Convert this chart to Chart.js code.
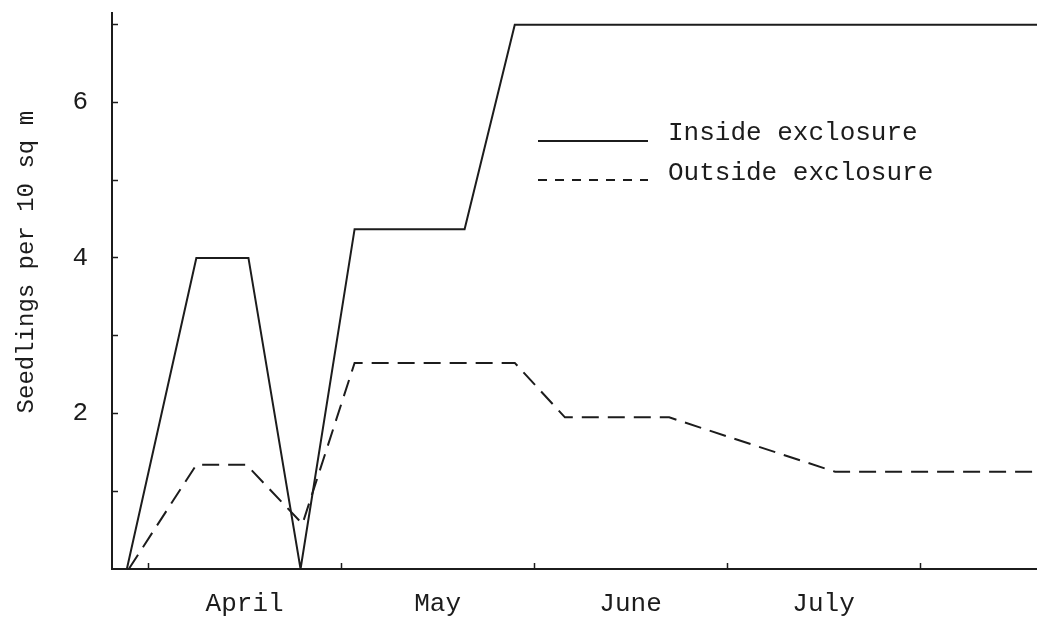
<!DOCTYPE html>
<html><head><meta charset="utf-8">
<script src="https://cdn.jsdelivr.net/npm/chart.js@4"></script>
<style>html,body{margin:0;padding:0;background:#fff}#wrap{width:1037px;height:617px}</style>
</head><body><div id="wrap"><canvas id="c" width="1037" height="617"></canvas></div>
<script>
// ---- data (x in months from 1 April) ----
const seriesNames = ['Inside exclosure', 'Outside exclosure'];
const monthLabels = ['April', 'May', 'June', 'July'];
const yTickLabels = ['2', '4', '6'];
const yAxisTitle = 'Seedlings per 10 sq m';
const insideX  = [-0.11, 0.25, 0.52, 0.79, 1.07, 1.64, 1.90, 4.61];
const insideY  = [0, 4, 4, 0, 4.37, 4.37, 7, 7];
const outsideX = [-0.10, 0.25, 0.51, 0.80, 1.07, 1.90, 2.16, 2.70, 3.56, 4.61];
const outsideY = [0, 1.34, 1.34, 0.58, 2.65, 2.65, 1.95, 1.95, 1.25, 1.25];

const ink = '#1c1c1c';
const FONT = "'Liberation Mono', 'Courier New', monospace";
const toPts = (xs, ys) => xs.map((x, i) => ({x, y: ys[i]}));

const legendPlugin = {
  id: 'inlineLegend',
  afterDatasetsDraw(chart) {
    const ctx = chart.ctx;
    ctx.save();
    chart.data.datasets.forEach((ds, i) => {
      const ly = 141 + i * 39;
      ctx.strokeStyle = ink;
      ctx.lineWidth = 2;
      ctx.setLineDash(i === 0 ? [] : [9, 8]);
      ctx.beginPath();
      ctx.moveTo(538, ly);
      ctx.lineTo(648, ly);
      ctx.stroke();
      ctx.setLineDash([]);
      ctx.fillStyle = ink;
      ctx.font = '26px ' + FONT;
      ctx.textBaseline = 'middle';
      ctx.textAlign = 'left';
      ctx.fillText(ds.label, 668, 133 + i * 40);
    });
    ctx.restore();
  }
};

new Chart(document.getElementById('c'), {
  type: 'line',
  data: {
    datasets: [
      {label: seriesNames[0], data: toPts(insideX, insideY), borderColor: ink, borderWidth: 2,
       pointRadius: 0, tension: 0, fill: false},
      {label: seriesNames[1], data: toPts(outsideX, outsideY), borderColor: ink, borderWidth: 2,
       borderDash: [17, 9], pointRadius: 0, tension: 0, fill: false}
    ]
  },
  options: {
    responsive: false,
    animation: false,
    layout: {padding: {top: 13, right: 0, left: 0, bottom: 0}},
    plugins: {legend: {display: false}, tooltip: {enabled: false}},
    scales: {
      x: {
        type: 'linear', min: -0.187, max: 4.606,
        afterBuildTicks: s => {
          const t = [];
          for (let i = 0; i <= monthLabels.length; i++) {
            t.push({value: i});
            if (i < monthLabels.length) t.push({value: i + 0.5});
          }
          s.ticks = t;
        },
        ticks: {
          autoSkip: false, maxRotation: 0, minRotation: 0, padding: 26, color: ink,
          font: {family: FONT, size: 26},
          callback: v => Number.isInteger(v) ? '' : (monthLabels[Math.floor(v)] || '')
        },
        grid: {
          drawOnChartArea: false, drawTicks: true, tickLength: -6, tickWidth: 1.5,
          tickColor: c => (c.tick && Number.isInteger(c.tick.value)) ? ink : 'rgba(0,0,0,0)'
        },
        border: {color: ink, width: 2},
        afterFit: s => { s.height = 48; s.paddingLeft = 0; s.paddingRight = 0; }
      },
      y: {
        type: 'linear', min: 0, max: 7.15,
        afterBuildTicks: s => {
          const t = [];
          for (let v = 1; v <= 7; v++) t.push({value: v});
          s.ticks = t;
        },
        ticks: {
          autoSkip: false, padding: 30, color: ink, font: {family: FONT, size: 26},
          callback: v => yTickLabels.includes(String(v)) ? String(v) : ''
        },
        grid: {drawOnChartArea: false, drawTicks: true, tickLength: -6, tickWidth: 1.5, tickColor: ink},
        border: {color: ink, width: 2},
        title: {display: true, text: '    ' + yAxisTitle, color: ink,
                font: {family: FONT, size: 24}, padding: {top: 12, bottom: 0}},
        afterFit: s => { s.width = 112; s.paddingTop = 0; s.paddingBottom = 0; }
      }
    }
  },
  plugins: [legendPlugin]
});
</script>
</body></html>
